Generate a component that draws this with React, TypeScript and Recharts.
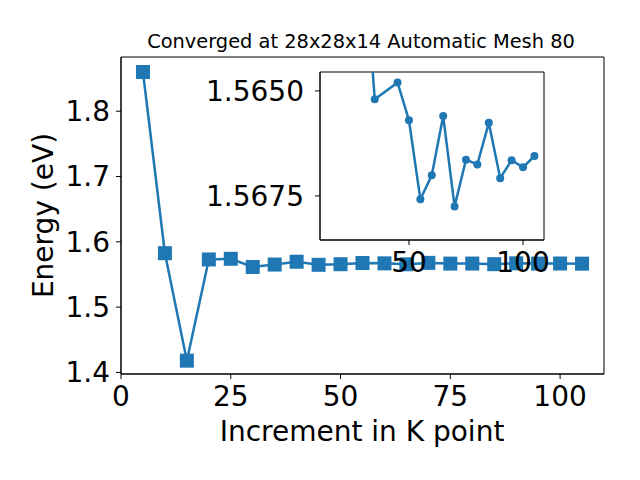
import { LineChart, Line, XAxis, YAxis, Label, ReferenceArea } from 'recharts';

// k-point increment vs. converged energy (eV)
const kPoints = [5, 10, 15, 20, 25, 30, 35, 40, 45, 50, 55, 60, 65, 70, 75, 80, 85, 90, 95, 100, 105];
const energy = [
  1.86, 1.5826, 1.418, 1.573, 1.574, 1.5615, 1.5652, 1.5695, 1.5648, 1.5657, 1.56758,
  1.56701, 1.5656, 1.56775, 1.56664, 1.56675, 1.56576, 1.56708, 1.56665, 1.56682, 1.56655,
];
// points shown in the zoomed inset
const insetKPoints = [30, 35, 45, 50, 55, 60, 65, 70, 75, 80, 85, 90, 95, 100, 105];

const mainXTicks = [0, 25, 50, 75, 100];
const mainYTicks = [1.4, 1.5, 1.6, 1.7, 1.8];
const insetXTicks = [50, 100];
const insetYTicks = [1.565, 1.5675];

const title = 'Converged at 28x28x14 Automatic Mesh 80';

const data = kPoints.map((k, i) => ({ k, energy: energy[i] }));
const insetData = data.filter((d) => insetKPoints.includes(d.k));

const BLUE = '#1f77b4';
const tickStyle = { fontSize: 28, fill: '#000' };

const squareDot = (p: any) => (
  <rect key={`sq-${p.index}`} x={p.cx - 7} y={p.cy - 7} width={14} height={14} fill={BLUE} />
);

export default function App() {
  return (
    <div
      style={{
        position: 'absolute',
        left: 0,
        top: 0,
        width: 640,
        height: 480,
        background: '#fff',
        fontFamily: '"DejaVu Sans", sans-serif',
      }}
    >
      <div style={{ position: 'absolute', left: 0, top: 0 }}>
        <LineChart width={640} height={480} data={data} margin={{ top: 57, right: 36, left: 0, bottom: 0 }}>
          <XAxis
            dataKey="k"
            type="number"
            domain={[0, 110]}
            ticks={mainXTicks}
            height={106}
            tickSize={5}
            tickMargin={7}
            tick={tickStyle}
            stroke="#000"
          >
            <Label
              content={() => (
                <text x={362} y={441} textAnchor="middle" fontSize={28} fill="#000">
                  Increment in K point
                </text>
              )}
            />
            <Label
              content={() => (
                <text x={361} y={48} textAnchor="middle" fontSize={19.4} fill="#000">
                  {title}
                </text>
              )}
            />
          </XAxis>
          <YAxis
            type="number"
            domain={[1.3976, 1.883]}
            ticks={mainYTicks}
            width={121}
            tickSize={5}
            tickMargin={6}
            tick={tickStyle}
            tickFormatter={(v) => v.toFixed(1)}
            stroke="#000"
          >
            <Label
              content={() => (
                <text
                  x={53}
                  y={215.5}
                  transform="rotate(-90 53 215.5)"
                  textAnchor="middle"
                  fontSize={28}
                  fill="#000"
                >
                  Energy (eV)
                </text>
              )}
            />
          </YAxis>
          <ReferenceArea x1={0} x2={110} y1={1.3976} y2={1.883} fill="none" stroke="#000" strokeWidth={1} />
          <Line
            dataKey="energy"
            stroke={BLUE}
            strokeWidth={2.5}
            dot={squareDot}
            activeDot={false}
            isAnimationActive={false}
          />
        </LineChart>
      </div>
      <div style={{ position: 'absolute', left: 0, top: 0 }}>
        <LineChart width={640} height={480} data={insetData} margin={{ top: 72, right: 96, left: 0, bottom: 0 }}>
          <ReferenceArea x1={11} x2={109.2} y1={1.56455} y2={1.56855} fill="#fff" fillOpacity={1} stroke="#000" />
          <XAxis
            dataKey="k"
            type="number"
            domain={[11, 109.2]}
            allowDataOverflow
            ticks={insetXTicks}
            height={240}
            tickSize={5}
            tickMargin={7}
            tick={tickStyle}
            stroke="#000"
          />
          <YAxis
            type="number"
            domain={[1.56455, 1.56855]}
            reversed
            allowDataOverflow
            ticks={insetYTicks}
            width={320}
            tickSize={5}
            tickMargin={11}
            tick={tickStyle}
            tickFormatter={(v) => v.toFixed(4)}
            stroke="#000"
          />
          <Line
            dataKey="energy"
            stroke={BLUE}
            strokeWidth={2.5}
            dot={{ r: 4, fill: BLUE, stroke: BLUE, strokeWidth: 0 }}
            activeDot={false}
            isAnimationActive={false}
          />
        </LineChart>
      </div>
    </div>
  );
}
